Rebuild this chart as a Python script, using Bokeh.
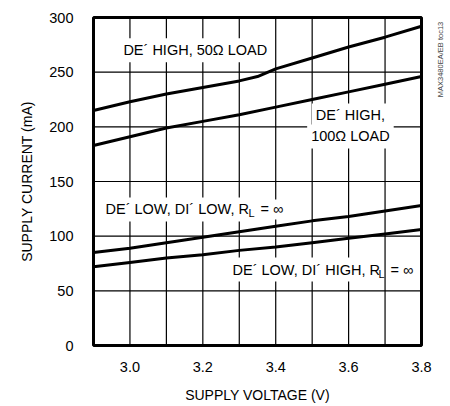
import math
from bokeh.plotting import figure
from bokeh.layouts import row
from bokeh.models import Label, FixedTicker, Range1d, Span
from bokeh.embed import file_html
from bokeh.resources import INLINE

# ---- data ----
voltage_50 = [2.9, 3.0, 3.1, 3.2, 3.3, 3.35, 3.4, 3.5, 3.6, 3.7, 3.8]
current_50 = [215, 223, 230, 236, 242, 246, 253, 263, 273, 282, 292]

voltage_100 = [2.9, 3.0, 3.1, 3.2, 3.3, 3.4, 3.5, 3.6, 3.7, 3.8]
current_100 = [183, 191, 199, 205, 211, 218, 225, 232, 239, 246]

voltage_low = [2.9, 3.0, 3.1, 3.2, 3.3, 3.4, 3.5, 3.6, 3.7, 3.8]
current_di_low = [85, 89, 94, 99, 104, 109, 114, 118, 123, 128]
current_di_high = [72, 76, 80, 83, 87, 90, 94, 98, 102, 106]

x_ticks = [3.0, 3.2, 3.4, 3.6, 3.8]
x_tick_labels = ["3.0", "3.2", "3.4", "3.6", "3.8"]
x_grid = [2.9, 3.0, 3.1, 3.2, 3.3, 3.4, 3.5, 3.6, 3.7, 3.8]
y_ticks = [0, 50, 100, 150, 200, 250, 300]

FONT = "Liberation Sans"

p = figure(width=434, height=406,
           x_range=Range1d(2.9, 3.8), y_range=Range1d(0, 300),
           output_backend="svg", toolbar_location=None,
           min_border_left=93, min_border_right=13,
           min_border_top=17, min_border_bottom=61)

p.background_fill_color = "white"
p.border_fill_color = "white"
p.outline_line_color = "black"
p.outline_line_width = 3
p.xgrid.visible = False
p.ygrid.visible = False

# axes
p.xaxis.ticker = FixedTicker(ticks=x_ticks)
p.xaxis.major_label_overrides = {t: s for t, s in zip(x_ticks, x_tick_labels)}
p.yaxis.ticker = FixedTicker(ticks=y_ticks)
for ax in (p.xaxis, p.yaxis):
    ax.axis_line_color = None
    ax.major_tick_line_color = None
    ax.minor_tick_line_color = None
    ax.major_tick_out = 0
    ax.major_tick_in = 0
    ax.minor_tick_out = 0
    ax.minor_tick_in = 0
    ax.major_label_text_font = FONT
    ax.major_label_text_font_size = "14.5px"
    ax.major_label_text_color = "black"
    ax.axis_label_text_font = FONT
    ax.axis_label_text_font_size = "14px"
    ax.axis_label_text_font_style = "normal"
    ax.axis_label_text_color = "black"

p.xaxis.axis_label = "SUPPLY VOLTAGE (V)"
p.yaxis.axis_label = "SUPPLY CURRENT (mA)"
p.xaxis.major_label_standoff = 16
p.yaxis.major_label_standoff = 20
p.xaxis.axis_label_standoff = 12
p.yaxis.axis_label_standoff = 11

# curves
p.line(voltage_50, current_50, line_color="black", line_width=3)
p.line(voltage_100, current_100, line_color="black", line_width=3)
p.line(voltage_low, current_di_low, line_color="black", line_width=3)
p.line(voltage_low, current_di_high, line_color="black", line_width=3)

# grid lines (from the grid arrays)
for gx in x_grid:
    p.add_layout(Span(location=gx, dimension="height", line_color="black", line_width=1.2))
for gy in y_ticks:
    p.add_layout(Span(location=gy, dimension="width", line_color="black", line_width=1.2))

def lab(x, y, text, size="14.5px", align="left", xo=0, yo=0, pad=None):
    kw = dict(x=x, y=y, text=text, text_font=FONT, text_font_size=size,
              text_align=align, text_baseline="middle", text_color="black",
              x_offset=xo, y_offset=yo)
    if pad is not None:
        kw.update(background_fill_color="white", padding=pad)
    l = Label(**kw)
    p.add_layout(l)
    return l

lab(2.971, 270, "DE\u00b4 HIGH, 50\u03a9 LOAD", pad=4)
lab(3.605, 210.4, "DE\u00b4 HIGH,", align="center", pad=4)
lab(3.605, 191.2, "100\u03a9 LOAD", align="center", pad=4)

# DE´ LOW, DI´ LOW, R_L = ∞
lab(2.922, 124.4, "DE\u00b4 LOW, DI\u00b4 LOW, R", pad=4)
lab(2.922, 124.4, "L", size="11px", xo=147, yo=-4)
lab(2.922, 124.4, "= \u221e", xo=157, pad=2)

# DE´ LOW, DI´ HIGH, R_L = ∞
lab(3.2705, 69.5, "DE\u00b4 LOW, DI\u00b4 HIGH, R", pad=4)
lab(3.2705, 69.5, "L", size="11px", xo=150, yo=-4)
lab(3.2705, 69.5, "= \u221e", xo=160, pad=2)

# side code, in a narrow strip at the right
side = figure(width=16, height=406, x_range=Range1d(0, 1), y_range=Range1d(0, 1),
              output_backend="svg", toolbar_location=None,
              x_axis_type=None, y_axis_type=None,
              min_border_left=0, min_border_right=0, min_border_top=0, min_border_bottom=0)
side.outline_line_color = None
side.background_fill_color = "white"
side.border_fill_color = "white"
side.add_layout(Label(x=0.375, y=0.987, text="MAX3480EA/EB toc13", angle=math.pi / 2,
                      text_font=FONT, text_font_size="7.5px", text_color="#444444",
                      text_align="right", text_baseline="middle"))

layout = row(p, side)
open("out.html", "w").write(file_html(layout, INLINE))
